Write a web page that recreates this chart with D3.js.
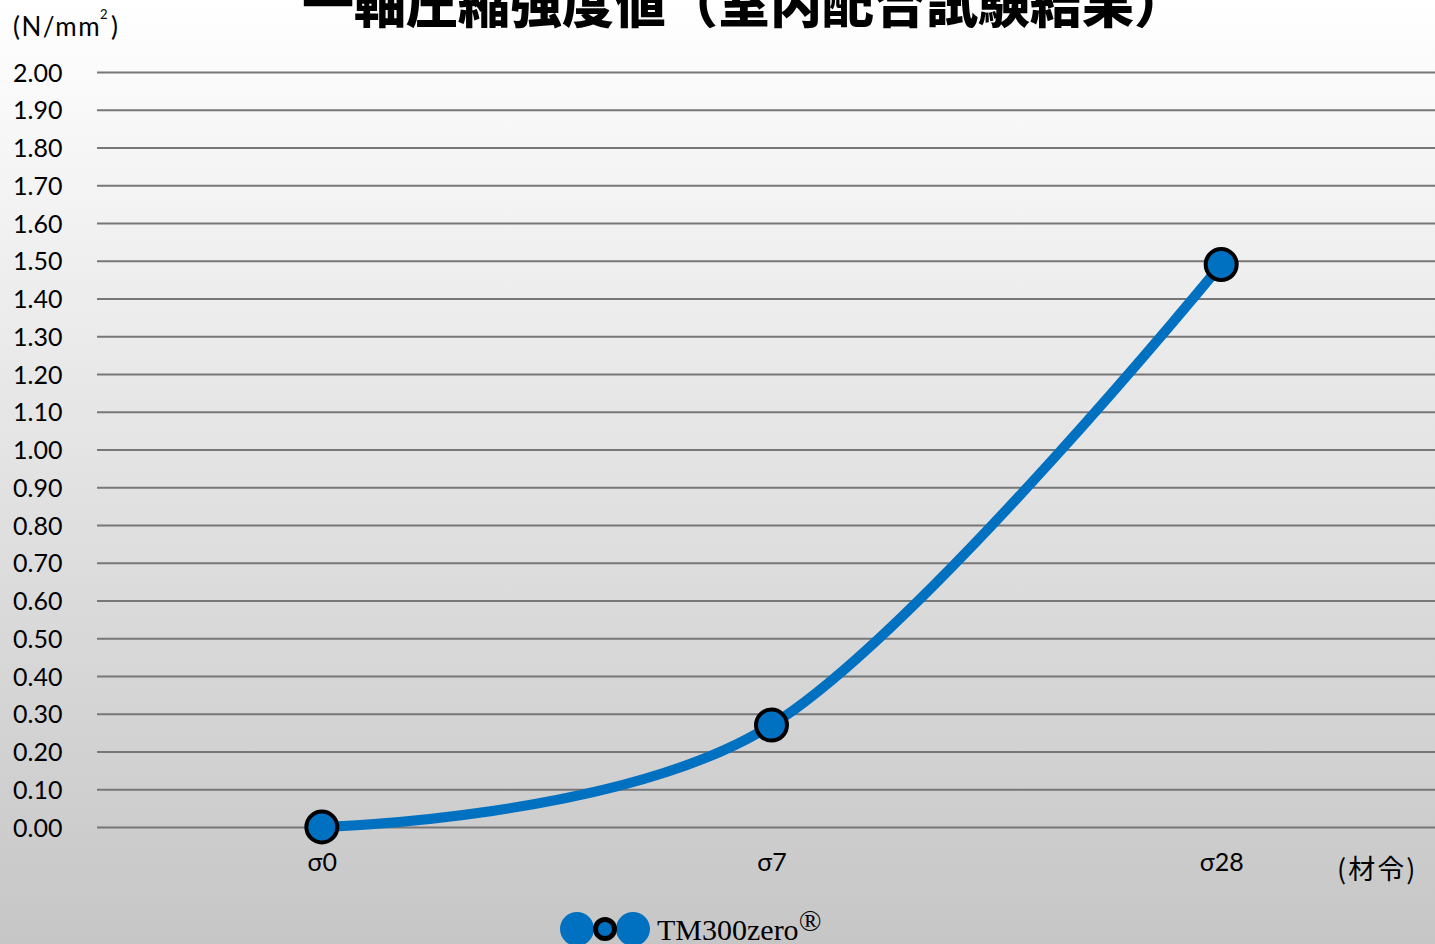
<!DOCTYPE html>
<html>
<head>
<meta charset="utf-8">
<script src="https://cdn.jsdelivr.net/npm/d3@7"></script>
<style>
  html, body { margin: 0; padding: 0; overflow: hidden; }
  svg { display: block; }
</style>
</head>
<body>
<div id="chart"></div>
<script>
// 一軸圧縮強度値 (室内配合試験結果)

var titleText = "一軸圧縮強度値（室内配合試験結果）";
var ages = ["σ0", "σ7", "σ28"];
var strength = [0.00, 0.27, 1.49];
var seriesName = "TM300zero";
var yTicks = d3.range(0, 21).map(function(i) { return i / 10; });

var width = 1435, height = 944;
var margin = {top: 72, left: 97, bottom: 117};

var svg = d3.select("#chart")
            .append("svg")
            .attr("width", width)
            .attr("height", height);

// background gradient
var grad = svg.append("defs").append("linearGradient")
    .attr("id", "bg")
    .attr("x1", "0").attr("y1", "0")
    .attr("x2", "0").attr("y2", "1");
grad.append("stop").attr("offset", "0%").attr("stop-color", "#ffffff");
grad.append("stop").attr("offset", "100%").attr("stop-color", "#c6c6c6");

svg.append("rect")
    .attr("width", width)
    .attr("height", height)
    .attr("fill", "url(#bg)");

var x = d3.scalePoint()
    .domain(ages)
    .range([margin.left, 1446])
    .padding(0.5);

var y = d3.scaleLinear()
    .domain([0, 2])
    .range([827, margin.top]);

// gridlines + y labels
var yAxis = d3.axisLeft(y)
    .tickValues(yTicks)
    .tickSize(-(width - margin.left))
    .tickPadding(0)
    .tickFormat(d3.format(".2f"));

var gy = svg.append("g")
    .attr("transform", "translate(" + margin.left + ",0)")
    .call(yAxis);
gy.select(".domain").remove();
gy.selectAll(".tick line")
    .attr("stroke", "#777")
    .attr("stroke-width", 2);
gy.selectAll(".tick text")
    .attr("x", 13 - margin.left)
    .attr("text-anchor", "start")
    .attr("dy", "0.36em")
    .style("font-family", "Lato, 'Noto Sans', sans-serif")
    .style("font-size", "25px")
    .attr("fill", "#000");

// x labels
var gx = svg.append("g")
    .attr("transform", "translate(0,827)")
    .call(d3.axisBottom(x).tickSize(0).tickPadding(0));
gx.select(".domain").remove();
gx.selectAll(".tick text")
    .attr("y", 44)
    .attr("dy", 0)
    .style("font-family", "Lato, 'Noto Sans', sans-serif")
    .style("font-size", "25px")
    .attr("fill", "#000");

// line
var pts = ages.map(function(a, i) { return [x(a), y(strength[i])]; });
var line = d3.line().curve(d3.curveCatmullRom.alpha(0));

svg.append("path")
    .attr("d", line(pts))
    .attr("fill", "none")
    .attr("stroke", "#0070c0")
    .attr("stroke-width", 10)
    .attr("stroke-linecap", "round");

svg.selectAll(".marker")
    .data(pts)
    .enter().append("circle")
    .attr("class", "marker")
    .attr("cx", function(d) { return d[0]; })
    .attr("cy", function(d) { return d[1]; })
    .attr("r", 15.5)
    .attr("fill", "#0070c0")
    .attr("stroke", "#000")
    .attr("stroke-width", 4);

// title (cut off at top like the source)
svg.append("text")
    .attr("x", 744)
    .attr("y", 23)
    .attr("text-anchor", "middle")
    .style("font-family", "'Noto Sans CJK JP', sans-serif")
    .style("font-weight", 900)
    .style("font-size", "52px")
    .text(titleText);

// unit labels
var unitStyle = function(sel) {
  return sel.style("font-family", "Lato, 'Noto Sans', sans-serif")
    .style("font-size", "26px")
    .style("letter-spacing", "1.5px")
    .attr("fill", "#000");
};
svg.append("text").attr("x", 13).attr("y", 36).call(unitStyle).text("(N/mm");
svg.append("text")
    .attr("x", 100).attr("y", 19)
    .style("font-family", "Lato, sans-serif")
    .style("font-size", "13px")
    .text("2");
svg.append("text").attr("x", 111).attr("y", 36).call(unitStyle).text(")");

svg.append("text")
    .attr("x", 1337)
    .attr("y", 879)
    .style("font-family", "'Noto Sans CJK JP', sans-serif")
    .style("font-size", "27px")
    .style("letter-spacing", "2px")
    .attr("fill", "#000")
    .text("(材令)");

// legend
var lg = svg.append("g").attr("transform", "translate(605,929)");
lg.selectAll(".lgc")
    .data([-28, 28])
    .enter().append("circle")
    .attr("cx", function(d) { return d; })
    .attr("r", 17)
    .attr("fill", "#0070c0");
lg.append("circle")
    .attr("r", 9.5)
    .attr("fill", "#0070c0")
    .attr("stroke", "#000")
    .attr("stroke-width", 5);
var lt = lg.append("text")
    .attr("x", 52)
    .attr("y", 11)
    .style("font-family", "'Liberation Serif', 'DejaVu Serif', serif")
    .style("font-size", "30px")
    .attr("fill", "#000");
lt.append("tspan").text(seriesName);
lt.append("tspan").attr("dy", -9).style("font-size", "30px").text("®");
</script>
</body>
</html>
